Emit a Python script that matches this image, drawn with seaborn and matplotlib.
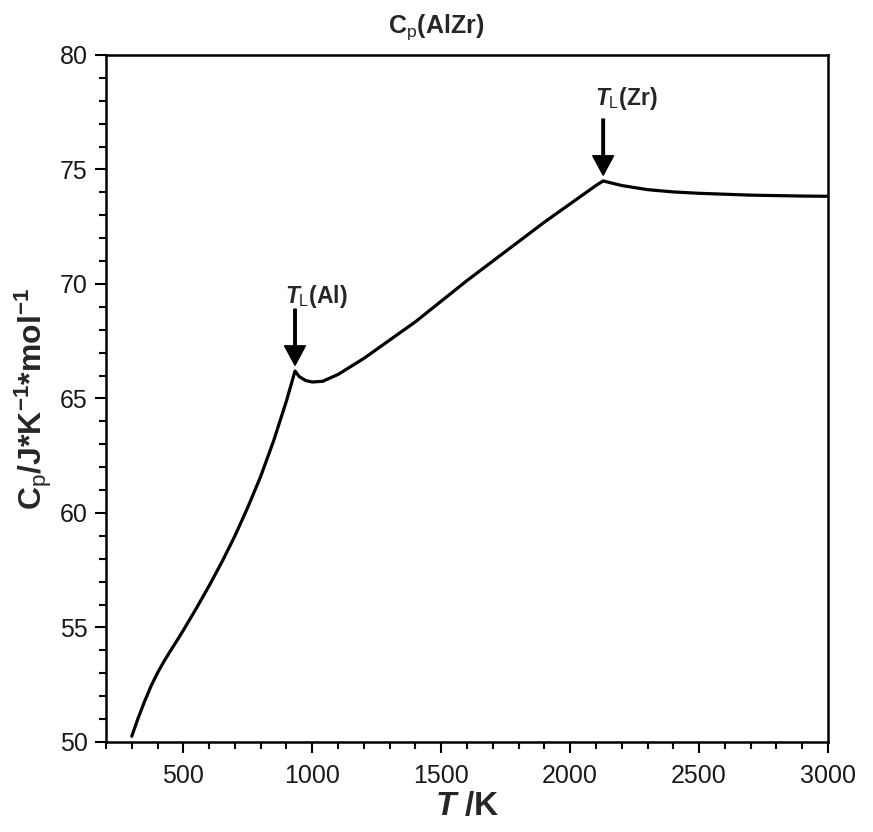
import matplotlib
matplotlib.use("Agg")
import matplotlib.pyplot as plt
from matplotlib.ticker import MultipleLocator
import seaborn as sns
import pandas as pd

T = [300, 325, 350, 375, 400, 425, 450, 475, 500, 550, 600, 650, 700, 750, 800, 850, 900, 933,
     950, 975, 1000, 1040, 1100, 1200, 1300, 1400, 1500, 1600, 1700, 1800,
     1900, 2000, 2100, 2128, 2200, 2300, 2400, 2500, 2600, 2700, 2800, 2900, 3000]
Cp = [50.25, 51.05, 51.78, 52.45, 53.02, 53.52, 53.98, 54.42, 54.88, 55.83, 56.82, 57.87,
      59.0, 60.25, 61.6, 63.15, 64.9, 66.2,
      65.95, 65.78, 65.72, 65.75, 66.05, 66.75, 67.55, 68.35, 69.25, 70.15, 71.0, 71.85,
      72.7, 73.5, 74.3, 74.5, 74.3, 74.12, 74.02, 73.96, 73.92, 73.88, 73.86, 73.84, 73.83]

melt_T = [933, 2128]
melt_Cp = [66.2, 74.5]
melt_labels = [r"$\mathit{T}_{\mathrm{L}}$(Al)", r"$\mathit{T}_{\mathrm{L}}$(Zr)"]

df = pd.DataFrame({"T": T, "Cp": Cp})

sns.set_style("ticks")
plt.rcParams["font.family"] = ["Liberation Sans", "DejaVu Sans"]
plt.rcParams["mathtext.fontset"] = "custom"
plt.rcParams["mathtext.rm"] = "Liberation Sans"
plt.rcParams["mathtext.it"] = "Liberation Sans:italic:bold"
plt.rcParams["mathtext.bf"] = "Liberation Sans:bold"

fig = plt.figure(figsize=(8.73, 8.32), dpi=100)
ax = fig.add_axes([0.1214, 0.1082, 0.9485 - 0.1214, 0.9339 - 0.1082])

sns.lineplot(data=df, x="T", y="Cp", ax=ax, color="black", linewidth=2.3, sort=False)

ax.set_xlim(200, 3000)
ax.set_ylim(50, 80)
ax.xaxis.set_major_locator(MultipleLocator(500))
ax.xaxis.set_minor_locator(MultipleLocator(100))
ax.yaxis.set_major_locator(MultipleLocator(5))
ax.yaxis.set_minor_locator(MultipleLocator(1))
ax.set_xticks([500, 1000, 1500, 2000, 2500, 3000])

ax.tick_params(axis="x", which="major", pad=8)
ax.tick_params(axis="y", which="major", pad=5)
ax.tick_params(axis="both", which="major", direction="out", length=8, width=1.5,
               labelsize=18, top=False, right=False, color="black", labelcolor="#1a1a1a")
ax.tick_params(axis="both", which="minor", direction="out", length=5, width=1.5,
               top=False, right=False, color="black")
for s in ax.spines.values():
    s.set_linewidth(1.8)
    s.set_color("black")

ax.set_xlabel(r"$\mathit{T}$ /K", fontsize=24, fontweight="bold", labelpad=2)
ax.set_ylabel(r"C$_{\mathrm{p}}$/J*K$^{\mathbf{-1}}$*mol$^{\mathbf{-1}}$", fontsize=23,
              fontweight="bold", labelpad=4)
fig.suptitle(r"C$_{\mathrm{p}}$(AlZr)", fontsize=18, fontweight="bold", x=0.5, y=0.985,
             va="top")

text_off = [(81, 2.98), (91, 3.3)]
for x, y, lab, (dx, dy) in zip(melt_T, melt_Cp, melt_labels, text_off):
    ax.annotate("", xy=(x, y + 0.25), xytext=(x, y + 2.7),
                arrowprops=dict(facecolor="black", edgecolor="black", width=1.8,
                                headwidth=15, headlength=14, shrink=0))
    ax.text(x + dx, y + dy, lab, fontsize=16.5, fontweight="bold", ha="center", va="baseline")

fig.savefig("out.png", dpi=100)
